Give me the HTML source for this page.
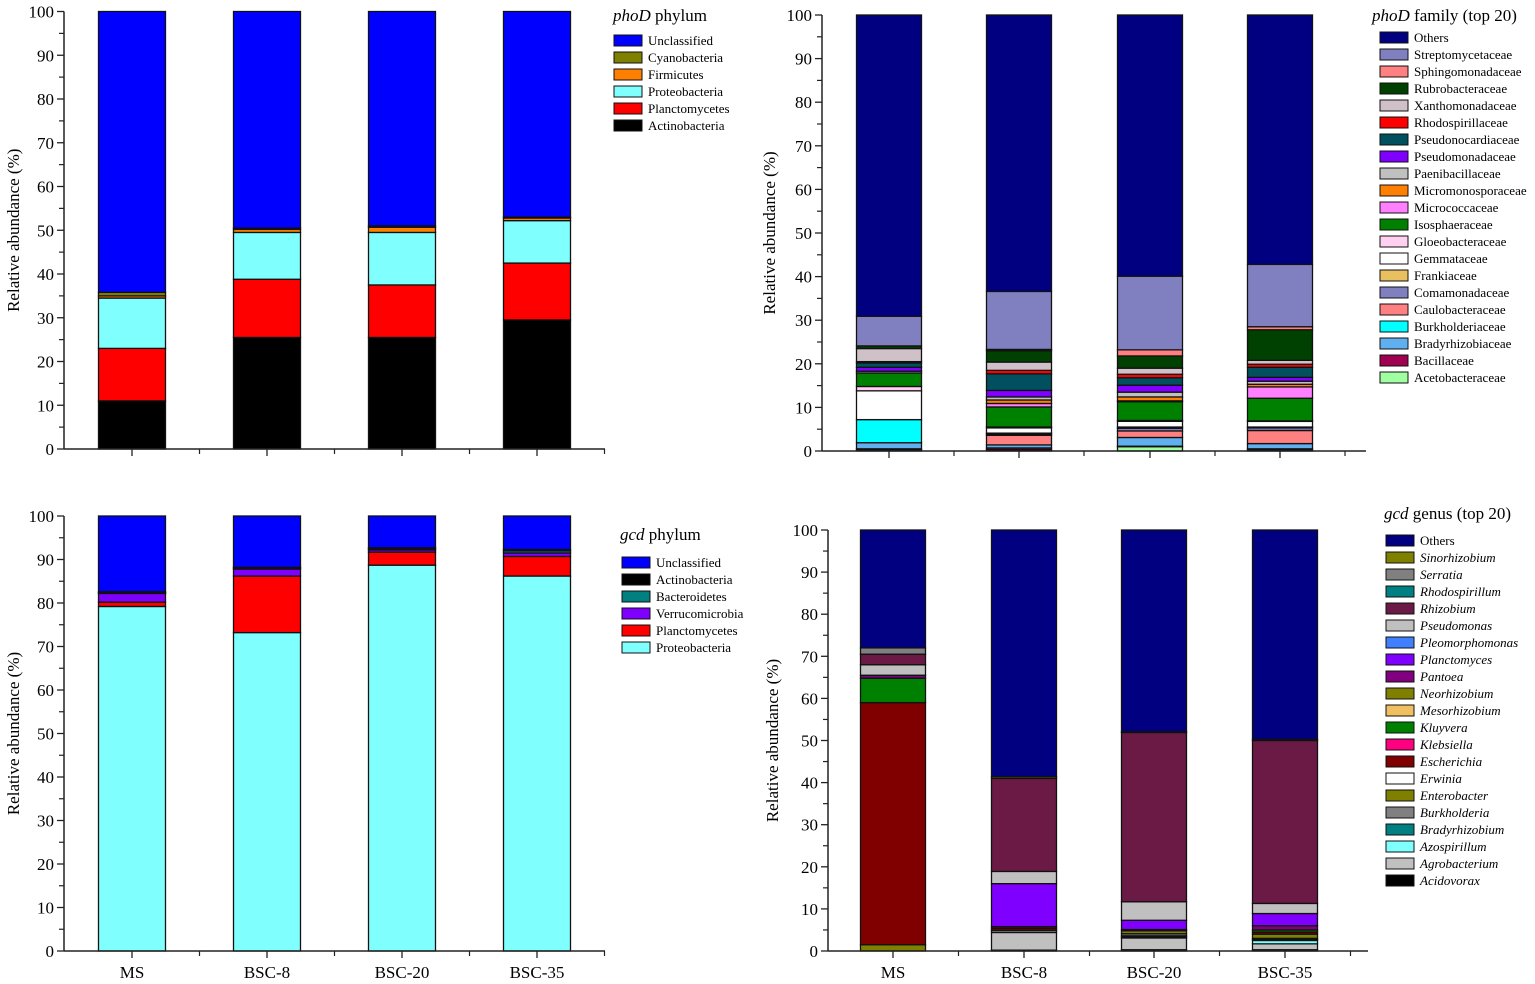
<!DOCTYPE html>
<html><head><meta charset="utf-8"><style>
body{margin:0;background:#fff;}
svg{display:block;font-family:"Liberation Serif",serif;}
</style></head><body>
<svg id="chart" width="1535" height="984" viewBox="0 0 1535 984" xmlns="http://www.w3.org/2000/svg"></svg>
<script>
const categories = ["MS","BSC-8","BSC-20","BSC-35"];
const yTicks = [0,10,20,30,40,50,60,70,80,90,100];

// phoD phylum (stack bottom -> top)
const phyNames = ["Actinobacteria","Planctomycetes","Proteobacteria","Firmicutes","Cyanobacteria","Unclassified"];
const phyColors = ["#000000","#FF0000","#80FFFF","#FF8000","#808000","#0000FF"];
const phyMS   = [11,12,11.5,0.5,0.8,64.2];
const phyB8   = [25.5,13.3,10.7,0.7,0.3,49.5];
const phyB20  = [25.5,12,12,1.2,0.3,49];
const phyB35  = [29.5,13,9.7,0.6,0.2,47];

// phoD family (stack bottom -> top)
const famNames = ["Acetobacteraceae","Bacillaceae","Bradyrhizobiaceae","Burkholderiaceae","Caulobacteraceae","Comamonadaceae","Frankiaceae","Gemmataceae","Gloeobacteraceae","Isosphaeraceae","Micrococcaceae","Micromonosporaceae","Paenibacillaceae","Pseudomonadaceae","Pseudonocardiaceae","Rhodospirillaceae","Xanthomonadaceae","Rubrobacteraceae","Sphingomonadaceae","Streptomycetaceae","Others"];
const famColors = ["#A0FFA0","#A00050","#60B0F0","#00FFFF","#FF8080","#8080C0","#E8C060","#FFFFFF","#FFD0F0","#008000","#FF80FF","#FF8000","#C0C0C0","#8000FF","#005060","#FF0000","#D0C0C8","#004000","#FF8080","#8080C0","#000080"];
const famMS  = [0.2,0.3,1.4,5.3,0,0,0,6.6,1,3.1,0,0,0.4,0.9,1,0.3,3,0.6,0,6.8];
const famB8  = [0.3,0.4,0.7,0,2.2,0.3,0.2,1.2,0.2,4.6,0.8,0.8,0.7,1.5,3.8,0.8,1.9,2.6,0.3,13.3];
const famB20 = [1,0.1,2,0,1.5,0.6,0.3,1.3,0.2,4.3,0.2,0.9,1.1,1.6,1.7,0.8,1.4,2.8,1.4,16.9];
const famB35 = [0.2,0.3,1.2,0,3,0.6,0.2,1.3,0.1,5.2,2.6,0.6,0.7,0.9,2.3,0.7,0.9,7,0.7,14.3];

// gcd phylum (stack bottom -> top)
const gphyNames = ["Proteobacteria","Planctomycetes","Verrucomicrobia","Bacteroidetes","Actinobacteria","Unclassified"];
const gphyColors = ["#80FFFF","#FF0000","#8000FF","#008080","#000000","#0000FF"];
const gphyMS  = [79.2,1,2,0.2,0.2,17.4];
const gphyB8  = [73.2,13,1.6,0.2,0.2,11.8];
const gphyB20 = [88.7,3,0.5,0.3,0.2,7.3];
const gphyB35 = [86.2,4.5,0.8,0.5,0.3,7.7];

// gcd genus (stack bottom -> top)
const genNames = ["Acidovorax","Agrobacterium","Azospirillum","Bradyrhizobium","Burkholderia","Enterobacter","Erwinia","Escherichia","Klebsiella","Kluyvera","Mesorhizobium","Neorhizobium","Pantoea","Planctomyces","Pleomorphomonas","Pseudomonas","Rhizobium","Rhodospirillum","Serratia","Sinorhizobium","Others"];
const genColors = ["#000000","#C0C0C0","#80FFFF","#008080","#808080","#808000","#FFFFFF","#800000","#FF0080","#008000","#F0C060","#808000","#800080","#8000FF","#4080FF","#C0C0C0","#6B1A45","#008080","#808080","#808000","#000080"];
const genMS  = [0,0,0,0,0,1.5,0,57.5,0,5.8,0,0,0.7,0,0,2.5,2.5,0,1.5,0];
const genB8  = [0.2,4.2,0,0,0.5,0,0,0.5,0,0,0,0,0.4,10.2,0,2.9,22.1,0,0,0.4];
const genB20 = [0.3,2.8,0.2,0.3,0.5,0.7,0,0,0,0,0,0,0.3,2.2,0,4.4,40.2,0,0,0.2];
const genB35 = [0.3,1.4,0.8,0.3,0.2,1,0,0.5,0,0.5,0,0,1,2.9,0,2.4,38.7,0,0,0.3];

const NS="http://www.w3.org/2000/svg";
const svg=document.getElementById('chart');
function el(tag,attrs,parent){const e=document.createElementNS(NS,tag);for(const k in attrs)e.setAttribute(k,attrs[k]);(parent||svg).appendChild(e);return e;}

function withOthers(arr){const s=arr.reduce((a,b)=>a+b,0);return arr.length===20?arr.concat([Math.max(0,100-s)]):arr;}

function panel(cfg){
  const g=el('g',{});
  
  
  const yS=v=>cfg.y0-(cfg.y0-cfg.y100)*v/100;
  const barW=cfg.bw;
  cfg.series.forEach((vals,bi)=>{
    const full=withOthers(vals);
    let acc=0;
    const cx=cfg.centers[bi];
    full.forEach((v,si)=>{
      if(v<=0)return;
      const yt=yS(acc+v), yb=yS(acc);
      const r=el('rect',{x:cx-barW/2,y:yt,width:barW,height:Math.max(0.5,yb-yt),fill:cfg.colors[si],stroke:'#111','stroke-width':1.3},g);
      
      
      acc+=v;
    });
  });
  const ax=el('line',{x1:cfg.ax,y1:yS(100),x2:cfg.ax,y2:cfg.y0,stroke:'#222','stroke-width':1.5},g);
  
  
  const xa=el('line',{x1:cfg.ax,y1:cfg.y0,x2:cfg.end,y2:cfg.y0,stroke:'#222','stroke-width':1.5},g);
  
  
  yTicks.forEach(t=>{
    el('line',{x1:cfg.ax-7,y1:yS(t),x2:cfg.ax,y2:yS(t),stroke:'#222','stroke-width':1.3},g);
    if(t<100)el('line',{x1:cfg.ax-5,y1:yS(t+5),x2:cfg.ax,y2:yS(t+5),stroke:'#222','stroke-width':1.2},g);
    const tx=el('text',{x:cfg.ax-10,y:yS(t)+6,'text-anchor':'end','font-size':17,fill:'#000'},g);
    tx.textContent=t;
    
    
  });
  const step=cfg.centers[1]-cfg.centers[0];
  cfg.centers.forEach((c,i)=>{
    el('line',{x1:c,y1:cfg.y0,x2:c,y2:cfg.y0+7,stroke:'#222','stroke-width':1.3},g);
    el('line',{x1:c+step/2,y1:cfg.y0,x2:c+step/2,y2:cfg.y0+5,stroke:'#222','stroke-width':1.2},g);
    if(cfg.xlabels){
      const tx=el('text',{x:c,y:cfg.y0+27,'text-anchor':'middle','font-size':17,fill:'#000'},g);
      tx.textContent=categories[i];
      
      
    }
  });
  const yt=el('text',{x:0,y:0,'text-anchor':'middle','font-size':17,fill:'#000',transform:`translate(${cfg.titleX},${(cfg.y0+yS(100))/2}) rotate(-90)`},g);
  yt.textContent='Relative abundance (%)';
  
  
  const lt=el('text',{x:cfg.lx,y:cfg.ly,'font-size':17,fill:'#000'},g);
  
  
  if(cfg.italicPart){const s=el('tspan',{'font-style':'italic'},lt);s.textContent=cfg.italicPart;const s2=el('tspan',{},lt);s2.textContent=cfg.titleRest;}
  const n=cfg.names.length;
  for(let k=0;k<n;k++){
    const si=n-1-k;
    const y=cfg.ey+k*17;
    const sw=el('rect',{x:cfg.sx,y:y-5,width:28,height:11,fill:cfg.colors[si],stroke:'#111','stroke-width':1},g);
    
    
    const t=el('text',{x:cfg.sx+34,y:y+5,'font-size':13,fill:'#000','font-style':(cfg.italicNames&&si<n-1)?'italic':'normal'},g);
    t.textContent=cfg.names[si];
    
    
  }
}

panel({name:'phod-phylum-panel',ax:64,y0:449,y100:11.5,end:605,centers:[132,267,402,537],bw:67,series:[phyMS,phyB8,phyB20,phyB35],names:phyNames,colors:phyColors,titleX:19,lx:613,ly:21,italicPart:'phoD',titleRest:' phylum',sx:614,ey:40,xlabels:false});
panel({name:'phod-family-panel',ax:822,y0:451,y100:15,end:1366,centers:[889,1019,1150,1280],bw:65,series:[famMS,famB8,famB20,famB35],names:famNames,colors:famColors,titleX:775,lx:1372,ly:21,italicPart:'phoD',titleRest:' family (top 20)',sx:1380,ey:37,xlabels:false});
panel({name:'gcd-phylum-panel',ax:64,y0:951,y100:516,end:605,centers:[132,267,402,537],bw:67,series:[gphyMS,gphyB8,gphyB20,gphyB35],names:gphyNames,colors:gphyColors,titleX:19,lx:620,ly:540,italicPart:'gcd',titleRest:' phylum',sx:622,ey:562,xlabels:true});
panel({name:'gcd-genus-panel',ax:828,y0:951,y100:530,end:1368,centers:[893,1024,1154,1285],bw:65,series:[genMS,genB8,genB20,genB35],names:genNames,colors:genColors,titleX:778,lx:1384,ly:519,italicPart:'gcd',titleRest:' genus (top 20)',sx:1386,ey:540,xlabels:true,italicNames:true});
</script>
</body></html>
